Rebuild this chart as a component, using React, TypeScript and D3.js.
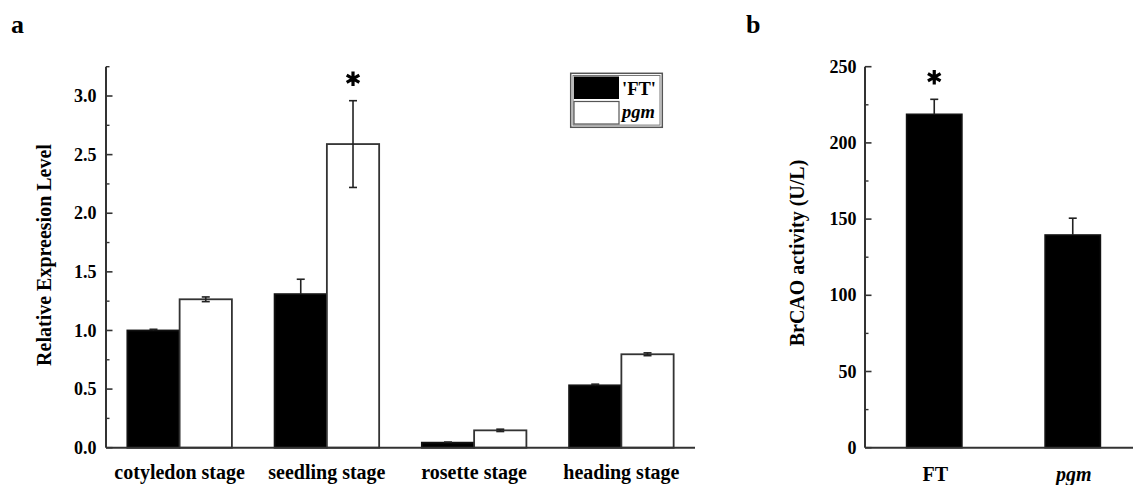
import React from "react";
import * as d3 from "d3";

const stages = ["cotyledon stage", "seedling stage", "rosette stage", "heading stage"];
const seriesNames = ["'FT'", "pgm"];
const ftValues = [1.0, 1.31, 0.043, 0.532];
const ftErrors = [0.01, 0.127, 0.005, 0.01];
const pgmValues = [1.266, 2.59, 0.148, 0.797];
const pgmErrors = [0.02, 0.37, 0.01, 0.012];
const ftSig = [false, false, false, false];
const pgmSig = [false, true, false, false];
const yTicksA = [0, 0.5, 1.0, 1.5, 2.0, 2.5, 3.0];

const genotypes = ["FT", "pgm"];
const activityValues = [218.8, 139.6];
const activityErrors = [9.8, 11];
const sigB = [true, false];
const yTicksB = [0, 50, 100, 150, 200, 250];

const SERIF = "'Liberation Serif', 'Times New Roman', serif";
const AXIS = "#333";

export default function App() {
  const W = 1133, H = 485;
  const y0 = 447.7, yTop = 66.7;

  // Panel a
  const ax0 = 106, ax1 = 695;
  const xA = d3.scaleBand<string>().domain(stages).range([ax0, ax1]).paddingInner(0.29).paddingOuter(0.145);
  const xAInner = d3.scaleBand<string>().domain(seriesNames).range([0, xA.bandwidth()]);
  const yA = d3.scaleLinear().domain([0, 3.25]).range([y0, yTop]);
  const minorA = d3.range(0, 3.25 + 1e-9, 0.25).filter((v) => Math.abs((v * 2) % 1) > 1e-6);

  // Panel b
  const bx0 = 865;
  const xB = d3.scaleBand<string>().domain(genotypes).range([bx0, 1142]).paddingInner(0.6).paddingOuter(0.3);
  const yB = d3.scaleLinear().domain([0, 250]).range([y0, yTop]);
  const minorB = d3.range(25, 250, 50);

  const star = d3.symbol().type(d3.symbolAsterisk).size(150)() as string;

  const barsA: { x: number; w: number; v: number; e: number; fill: string; sig: boolean }[] = [];
  stages.forEach((s, i) => {
    barsA.push({ x: (xA(s) as number) + (xAInner(seriesNames[0]) as number), w: xAInner.bandwidth(), v: ftValues[i], e: ftErrors[i], fill: "#000", sig: ftSig[i] });
    barsA.push({ x: (xA(s) as number) + (xAInner(seriesNames[1]) as number), w: xAInner.bandwidth(), v: pgmValues[i], e: pgmErrors[i], fill: "#fff", sig: pgmSig[i] });
  });

  const errBar = (cx: number, mid: number, top: number, bot: number, showLower: boolean, key: string) => (
    <g key={key} stroke="#222" strokeWidth={1.6}>
      <line x1={cx} x2={cx} y1={top} y2={showLower ? bot : mid} />
      <line x1={cx - 4} x2={cx + 4} y1={top} y2={top} />
      {showLower && <line x1={cx - 4} x2={cx + 4} y1={bot} y2={bot} />}
    </g>
  );

  return (
    <svg width={W} height={H} style={{ position: "absolute", left: 0, top: 0, background: "#fff" }} fontFamily={SERIF}>
      <rect width={W} height={H} fill="#fff" />
      {/* panel letters */}
      <text x={11} y={33} fontSize={26} fontWeight="bold">a</text>
      <text x={746} y={33} fontSize={26} fontWeight="bold">b</text>

      {/* ===== Panel a ===== */}
      {barsA.map((b, i) => (
        <rect key={"ba" + i} x={b.x} y={yA(b.v)} width={b.w} height={y0 - yA(b.v)} fill={b.fill} stroke={b.fill === "#000" ? "#111" : AXIS} strokeWidth={1.8} />
      ))}
      {barsA.map((b, i) => errBar(b.x + b.w / 2, yA(b.v), yA(b.v + b.e), yA(b.v - b.e), b.fill !== "#000", "ea" + i))}
      {barsA.filter((b) => b.sig).map((b, i) => (
        <path key={"sa" + i} d={star} transform={`translate(${b.x + b.w / 2},${yA(b.v + b.e) - 22})`} stroke="#000" strokeWidth={3.2} />
      ))}
      <line x1={ax0} x2={ax0} y1={yTop} y2={y0} stroke={AXIS} strokeWidth={2} />
      <line x1={ax0} x2={ax1} y1={y0} y2={y0} stroke={AXIS} strokeWidth={2} />
      {yTicksA.map((t) => (
        <g key={"ta" + t}>
          <line x1={ax0} x2={ax0 + 6.5} y1={yA(t)} y2={yA(t)} stroke={AXIS} strokeWidth={1.6} />
          <text x={ax0 - 9.5} y={yA(t)} dy="0.34em" textAnchor="end" fontSize={18} fontWeight="bold">{t.toFixed(1)}</text>
        </g>
      ))}
      {minorA.map((t) => (
        <line key={"ma" + t} x1={ax0} x2={ax0 + 3.5} y1={yA(t)} y2={yA(t)} stroke={AXIS} strokeWidth={1.4} />
      ))}
      {stages.map((s) => (
        <text key={"xl" + s} x={(xA(s) as number) + xA.bandwidth() / 2} y={479} textAnchor="middle" fontSize={20} fontWeight="bold">{s}</text>
      ))}
      <text transform="translate(51,255) rotate(-90)" textAnchor="middle" fontSize={20} fontWeight="bold">Relative Expreesion Level</text>

      {/* legend */}
      <g>
        <rect x={570.7} y={73.3} width={91.6} height={54} fill="#fff" stroke="#555" strokeWidth={1.5} />
        <rect x={573} y={75.5} width={87} height={49.6} fill="none" stroke="#777" strokeWidth={1} />
        <rect x={574} y={76.5} width={45} height={22.5} fill="#000" />
        <rect x={574} y={101.5} width={45} height={22.5} fill="#fff" stroke="#555" strokeWidth={1.2} />
        <text x={622} y={95} fontSize={18.5} fontWeight="bold">{seriesNames[0]}</text>
        <text x={622} y={118} fontSize={18.5} fontWeight="bold" fontStyle="italic">{seriesNames[1]}</text>
      </g>

      {/* ===== Panel b ===== */}
      {genotypes.map((g, i) => (
        <rect key={"bb" + g} x={xB(g)} y={yB(activityValues[i])} width={xB.bandwidth()} height={y0 - yB(activityValues[i])} fill="#000" stroke="#111" strokeWidth={1.5} />
      ))}
      {genotypes.map((g, i) =>
        errBar((xB(g) as number) + xB.bandwidth() / 2, yB(activityValues[i]), yB(activityValues[i] + activityErrors[i]), yB(activityValues[i] - activityErrors[i]), false, "eb" + g)
      )}
      {genotypes.filter((g, i) => sigB[i]).map((g) => {
        const i = genotypes.indexOf(g);
        return (
          <path key={"sb" + g} d={star} transform={`translate(${(xB(g) as number) + xB.bandwidth() / 2},${yB(activityValues[i] + activityErrors[i]) - 22})`} stroke="#000" strokeWidth={3.2} />
        );
      })}
      <line x1={bx0} x2={bx0} y1={yTop} y2={y0} stroke={AXIS} strokeWidth={2} />
      <line x1={bx0} x2={W} y1={y0} y2={y0} stroke={AXIS} strokeWidth={2} />
      {yTicksB.map((t) => (
        <g key={"tb" + t}>
          <line x1={bx0} x2={bx0 + 6.5} y1={yB(t)} y2={yB(t)} stroke={AXIS} strokeWidth={1.6} />
          <text x={bx0 - 8.5} y={yB(t)} dy="0.34em" textAnchor="end" fontSize={18} fontWeight="bold">{t}</text>
        </g>
      ))}
      {minorB.map((t) => (
        <line key={"mb" + t} x1={bx0} x2={bx0 + 3.5} y1={yB(t)} y2={yB(t)} stroke={AXIS} strokeWidth={1.4} />
      ))}
      {genotypes.map((g, i) => (
        <text key={"xb" + g} x={(xB(g) as number) + xB.bandwidth() / 2 + 1} y={481} textAnchor="middle" fontSize={20} fontWeight="bold" fontStyle={i === 1 ? "italic" : "normal"}>{g}</text>
      ))}
      <text transform="translate(804,253) rotate(-90)" textAnchor="middle" fontSize={20} fontWeight="bold">BrCAO activity (U/L)</text>
    </svg>
  );
}
